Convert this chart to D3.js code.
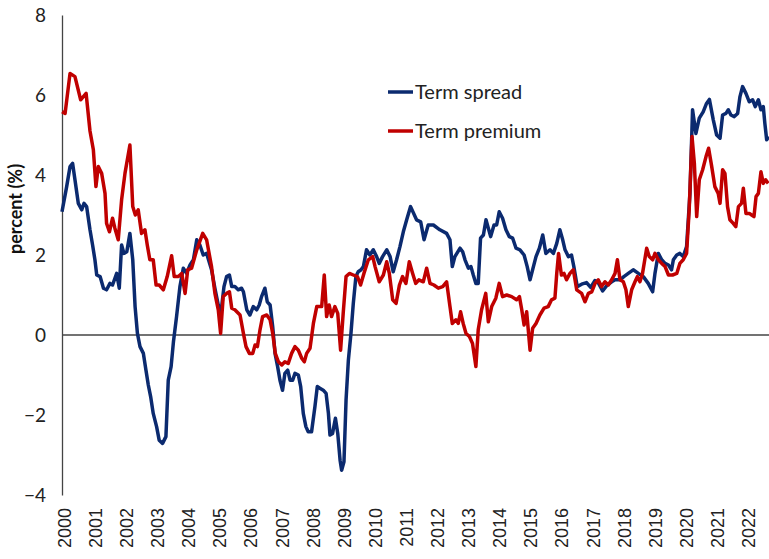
<!DOCTYPE html>
<html>
<head>
<meta charset="utf-8">
<script src="https://cdn.jsdelivr.net/npm/d3@7"></script>
<style>
  body { margin: 0; background: #fff; }
  svg { display: block; }
</style>
</head>
<body>
<div id="chart"></div>
<script>
// months since Jan 2000, value in percent
const termSpread = [
  [0,3.08],[1.8,3.71],[3.1,4.21],[4.1,4.29],[5,3.88],[6.3,3.29],[7.6,3.13],[8.5,3.29],[9.5,3.21],[10.8,2.63],
  [11.8,2.25],[12.7,1.88],[13.4,1.5],[14.7,1.46],[16,1.17],[17.2,1.13],[18.5,1.29],[19.5,1.25],[21.1,1.54],[22.1,1.17],
  [23,2.25],[23.9,2.04],[25,2.08],[26.2,2.54],[27.3,1.88],[28.2,0.71],[29.1,0.04],[30.1,-0.29],[31.4,-0.46],[32.4,-0.88],
  [33.3,-1.25],[34.2,-1.54],[35.2,-1.96],[36.5,-2.29],[37.5,-2.63],[38.8,-2.71],[40.1,-2.54],[41,-1.13],[42.1,-0.79],[43,-0.17],
  [44.2,0.46],[45.5,1.21],[46.8,1.67],[48.1,1.54],[49.4,1.75],[50.7,1.88],[52,2.38],[53.2,2.25],[54.5,2.0],[55.8,2.04],
  [57.7,1.63],[59,1.17],[60.3,0.75],[61.3,0.54],[62.5,1.21],[63.5,1.46],[64.6,1.5],[65.5,1.21],[66.7,1.21],[68,1.13],
  [69.3,1.17],[70,1.08],[71.3,0.63],[72.5,0.5],[73.8,0.71],[75.1,0.63],[76.1,0.75],[77,0.96],[78.3,1.17],[79.2,0.83],
  [80.3,0.75],[81.3,0.21],[82.2,-0.46],[83.2,-0.79],[84.1,-1.13],[85.1,-1.38],[86,-0.96],[87.1,-0.88],[88,-1.13],[89,-1.13],
  [89.9,-0.96],[91.2,-1.0],[92.1,-1.29],[93.1,-1.96],[94.1,-2.29],[95,-2.42],[96.3,-2.42],[97.6,-1.79],[98.5,-1.29],[99.5,-1.33],
  [100.8,-1.38],[101.9,-1.46],[102.8,-1.96],[103.4,-2.5],[104.4,-2.46],[105.5,-2.08],[106.4,-2.46],[107.3,-3.13],[107.9,-3.38],[108.8,-3.17],
  [109.6,-1.63],[110.5,-0.63],[111.5,0.04],[112.4,0.79],[113.4,1.46],[114.3,1.58],[115.4,1.63],[116.3,1.71],[117.5,2.13],[118.8,2.0],
  [120.1,2.13],[121.4,1.96],[122.4,1.79],[123.7,1.96],[125.3,2.13],[126.6,1.96],[127.8,1.58],[129.1,1.88],[130.4,2.21],[131.7,2.58],
  [133,2.88],[134.5,3.21],[136.8,2.88],[138.4,2.83],[139.7,2.38],[141.3,2.75],[143.3,2.75],[145.8,2.63],[148.4,2.54],[149.7,2.38],
  [150.6,1.71],[151.6,1.96],[153.6,2.17],[154.6,2.08],[155.5,1.88],[156.8,1.67],[157.8,1.71],[158.7,1.5],[159.7,1.29],[160.6,1.29],
  [161.5,2.42],[162.6,2.5],[163.6,2.88],[165.4,2.46],[166.7,2.75],[167.7,2.75],[168.7,3.08],[170,2.92],[171.3,2.63],[172.6,2.46],
  [173.9,2.42],[175.2,2.17],[176.7,2.13],[178.3,2.0],[179.5,1.71],[180.6,1.38],[181.9,1.71],[182.9,1.96],[184.2,2.17],[185.5,2.5],
  [186.7,2.04],[188.3,2.13],[189.6,2.04],[190.9,2.29],[192.1,2.63],[193.2,2.38],[194.1,2.13],[195.4,1.96],[196.6,2.0],[197.5,1.71],
  [198.8,1.21],[200.5,1.27],[202.4,1.31],[204,1.19],[205.6,1.36],[206.9,1.31],[208.6,1.1],[210.4,1.25],[212.1,1.33],[213.4,1.38],
  [215.3,1.38],[216.8,1.46],[218.5,1.54],[220.4,1.63],[222.4,1.54],[224.3,1.46],[226.2,1.29],[227.9,1.08],[228.8,1.54],[230.1,2.04],
  [231.4,1.88],[232.7,1.79],[234,1.75],[235.2,1.63],[235.9,1.88],[237.2,2.0],[238.4,2.04],[239.7,1.96],[241,2.21],[242.3,3.54],
  [243.3,5.63],[244.6,5.04],[245.9,5.42],[247.4,5.58],[248.7,5.79],[249.8,5.89],[251.3,5.38],[252.6,5.0],[253.9,4.92],[254.9,5.5],
  [256.2,5.54],[257.1,5.63],[258.1,5.5],[259.4,5.46],[260.7,5.54],[261.6,5.96],[262.6,6.21],[263.9,6.04],[265.2,5.83],[266.5,5.88],
  [267.5,5.71],[268.7,5.88],[269.7,5.63],[270.6,5.71],[271.2,5.29],[271.9,4.88],[272.7,4.96]
];

const termPremium = [
  [0,5.58],[1.2,5.54],[3.1,6.54],[5,6.46],[7.2,5.88],[9.3,6.04],[10.8,5.1],[12.1,4.63],[13.1,3.71],[14,4.21],
  [15.3,4.04],[16.6,3.54],[17.2,2.79],[18.3,2.58],[19.5,2.92],[20.4,2.67],[21.7,2.38],[23,3.38],[24.3,4.04],[26.2,4.75],
  [27.3,3.21],[28.3,3.0],[29.4,3.13],[30.7,2.54],[32,2.63],[32.9,2.25],[33.9,1.88],[35.2,1.88],[36.3,1.25],[37.5,1.25],
  [39.1,1.13],[40.6,1.46],[42.3,1.98],[43.3,1.46],[44.9,1.46],[46.2,1.54],[47.5,1.04],[48.5,1.63],[50,1.67],[52,2.13],
  [54.3,2.54],[55.8,2.38],[57.7,1.71],[59,1.04],[60.3,0.63],[61.2,0.04],[62.2,0.96],[63.5,1.04],[64.6,1.08],[65.5,0.67],
  [66.7,0.63],[68.7,0.5],[70,0.04],[71,-0.29],[72.3,-0.46],[73.6,-0.46],[74.5,-0.25],[75.4,-0.29],[76.4,0.13],[77.4,0.46],
  [79,0.5],[80.3,0.38],[81.3,0.04],[82.3,-0.46],[83.5,-0.67],[84.8,-0.75],[86,-0.67],[87.3,-0.71],[88.6,-0.46],[89.9,-0.29],
  [91.2,-0.38],[92.5,-0.58],[93.5,-0.67],[94.4,-0.46],[95.7,-0.33],[97,0.29],[98.3,0.71],[100.2,0.71],[101.2,1.5],[102.1,0.46],
  [103.1,0.75],[104,0.46],[105.3,0.71],[106.4,0.54],[107.5,-0.38],[108.5,0.54],[109.6,1.46],[110.9,1.54],[112.4,1.5],[114,1.46],
  [115.2,1.25],[116.5,1.54],[118.2,1.88],[119.9,1.96],[120.8,1.71],[122.4,1.33],[124,1.5],[125.3,1.83],[126.3,1.54],[127.6,0.88],
  [128.9,0.79],[130.2,1.25],[131.4,1.46],[132.7,1.29],[134,1.83],[135.3,1.54],[136.5,1.29],[137.7,1.38],[139.4,1.33],[140.7,1.67],
  [142,1.29],[143.5,1.25],[145.2,1.17],[146.9,1.21],[148.4,1.33],[149.7,0.71],[150.6,0.29],[152,0.38],[152.9,0.29],[153.8,0.58],
  [154.8,0.29],[155.9,0.04],[157.2,-0.04],[158.4,-0.21],[159.7,-0.79],[160.6,0.13],[161.9,0.63],[163.5,1.04],[164.5,0.33],[165.8,0.71],
  [167.4,0.92],[168.7,1.29],[170,0.96],[171.6,1.0],[173.5,0.96],[175.4,0.88],[176.5,0.96],[177.4,0.63],[178.3,0.25],[179.3,0.58],
  [180.6,-0.38],[181.6,0.17],[182.9,0.29],[184.4,0.5],[186,0.67],[187.6,0.71],[188.9,0.88],[190.2,0.92],[190.9,1.54],[191.6,2.04],
  [192.7,1.5],[193.7,1.54],[194.7,1.38],[196,1.54],[197.3,1.63],[198.6,1.13],[200.5,1.04],[201.8,0.83],[203.1,1.04],[204.4,1.08],
  [205.7,1.29],[206.9,1.38],[208.2,1.21],[209.5,1.33],[210.8,1.25],[212.1,1.38],[213.4,1.54],[214.3,1.88],[215.3,1.38],[216.6,1.33],
  [217.6,1.13],[218.5,0.71],[219.8,1.13],[221.1,1.33],[222,1.46],[223,1.33],[224,1.54],[225.6,2.17],[226.6,1.96],[227.9,1.88],
  [228.8,2.04],[230.1,1.88],[231.4,1.79],[232.7,1.71],[234,1.5],[235.6,1.5],[237.2,1.54],[238.4,1.79],[239.7,1.88],[241,2.04],
  [242,3.13],[243.1,4.96],[244,4.29],[244.9,2.96],[245.9,3.88],[247.2,4.13],[248.5,4.46],[249.5,4.67],[250.7,4.21],[251.9,3.71],
  [253.2,3.54],[253.9,3.29],[254.9,4.13],[255.8,4.04],[256.8,3.21],[257.7,2.88],[259,2.79],[260,2.71],[261,3.21],[262.2,3.29],
  [262.9,3.67],[263.9,3.04],[265.2,3.04],[266.1,3.0],[267,2.96],[267.8,3.46],[268.7,3.54],[269.7,4.08],[270.6,3.79],[271.5,3.88],
  [272.5,3.79]
];

const yearLabels = d3.range(2000, 2023);
const yTicks = [-4, -2, 0, 2, 4, 6, 8];
const seriesNames = ['Term spread', 'Term premium'];
const seriesColors = ['#0b2a6f', '#c00000'];

const width = 769, height = 559;

const svg = d3.select('#chart').append('svg')
  .attr('width', width)
  .attr('height', height);

const x = d3.scaleLinear().domain([0, 272.8]).range([62, 769]);
const y = d3.scaleLinear().domain([-4, 8]).range([495, 15]);

// y axis
const yAxis = svg.append('g')
  .attr('transform', 'translate(62,0)')
  .call(d3.axisLeft(y).tickValues(yTicks).tickSize(0).tickSizeOuter(0).tickPadding(16));
yAxis.select('.domain').attr('stroke', '#444').attr('stroke-width', 1.3);
yAxis.selectAll('text')
  .attr('font-family', 'Lato, sans-serif')
  .attr('font-size', 19)
  .attr('fill', '#222');

// year labels
const xAxis = svg.append('g')
  .attr('transform', 'translate(0,500)')
  .call(d3.axisBottom(x).tickValues(yearLabels.map(d => (d - 2000) * 12)).tickFormat((d, i) => yearLabels[i]).tickSize(0));
xAxis.select('.domain').remove();
xAxis.selectAll('text')
  .attr('font-family', '"Liberation Sans", Arial, sans-serif')
  .attr('font-size', 18)
  .attr('fill', '#222')
  .attr('text-anchor', 'end')
  .attr('transform', 'rotate(-90)')
  .attr('x', -8)
  .attr('y', 2)
  .attr('dy', '0.35em');

// zero line
svg.append('line')
  .attr('x1', 62).attr('x2', width)
  .attr('y1', y(0)).attr('y2', y(0))
  .attr('stroke', '#444')
  .attr('stroke-width', 1.3);

// axis title
svg.append('text')
  .attr('transform', 'translate(22,209) rotate(-90)')
  .attr('text-anchor', 'middle')
  .attr('font-family', 'Lato, sans-serif')
  .attr('font-weight', 'bold')
  .attr('font-size', 18)
  .attr('fill', '#111')
  .text('percent (%)');

const line = d3.line()
  .x(d => x(d[0]))
  .y(d => y(d[1]));

[termSpread, termPremium].forEach((series, i) => {
  svg.append('path')
    .datum(series)
    .attr('fill', 'none')
    .attr('stroke', seriesColors[i])
    .attr('stroke-width', 3.5)
    .attr('stroke-linejoin', 'round')
    .attr('d', line);
});

// legend
const legend = svg.append('g').attr('transform', 'translate(388,92)');
seriesNames.forEach((name, i) => {
  const row = legend.append('g').attr('transform', `translate(0,${i * 39})`);
  row.append('line')
    .attr('x1', 0).attr('x2', 25)
    .attr('stroke', seriesColors[i])
    .attr('stroke-width', 3.5);
  row.append('text')
    .attr('x', 27)
    .attr('dy', '0.35em')
    .attr('font-family', 'Lato, sans-serif')
    .attr('font-size', 20)
    .attr('fill', '#222')
    .text(name);
});
</script>
</body>
</html>
